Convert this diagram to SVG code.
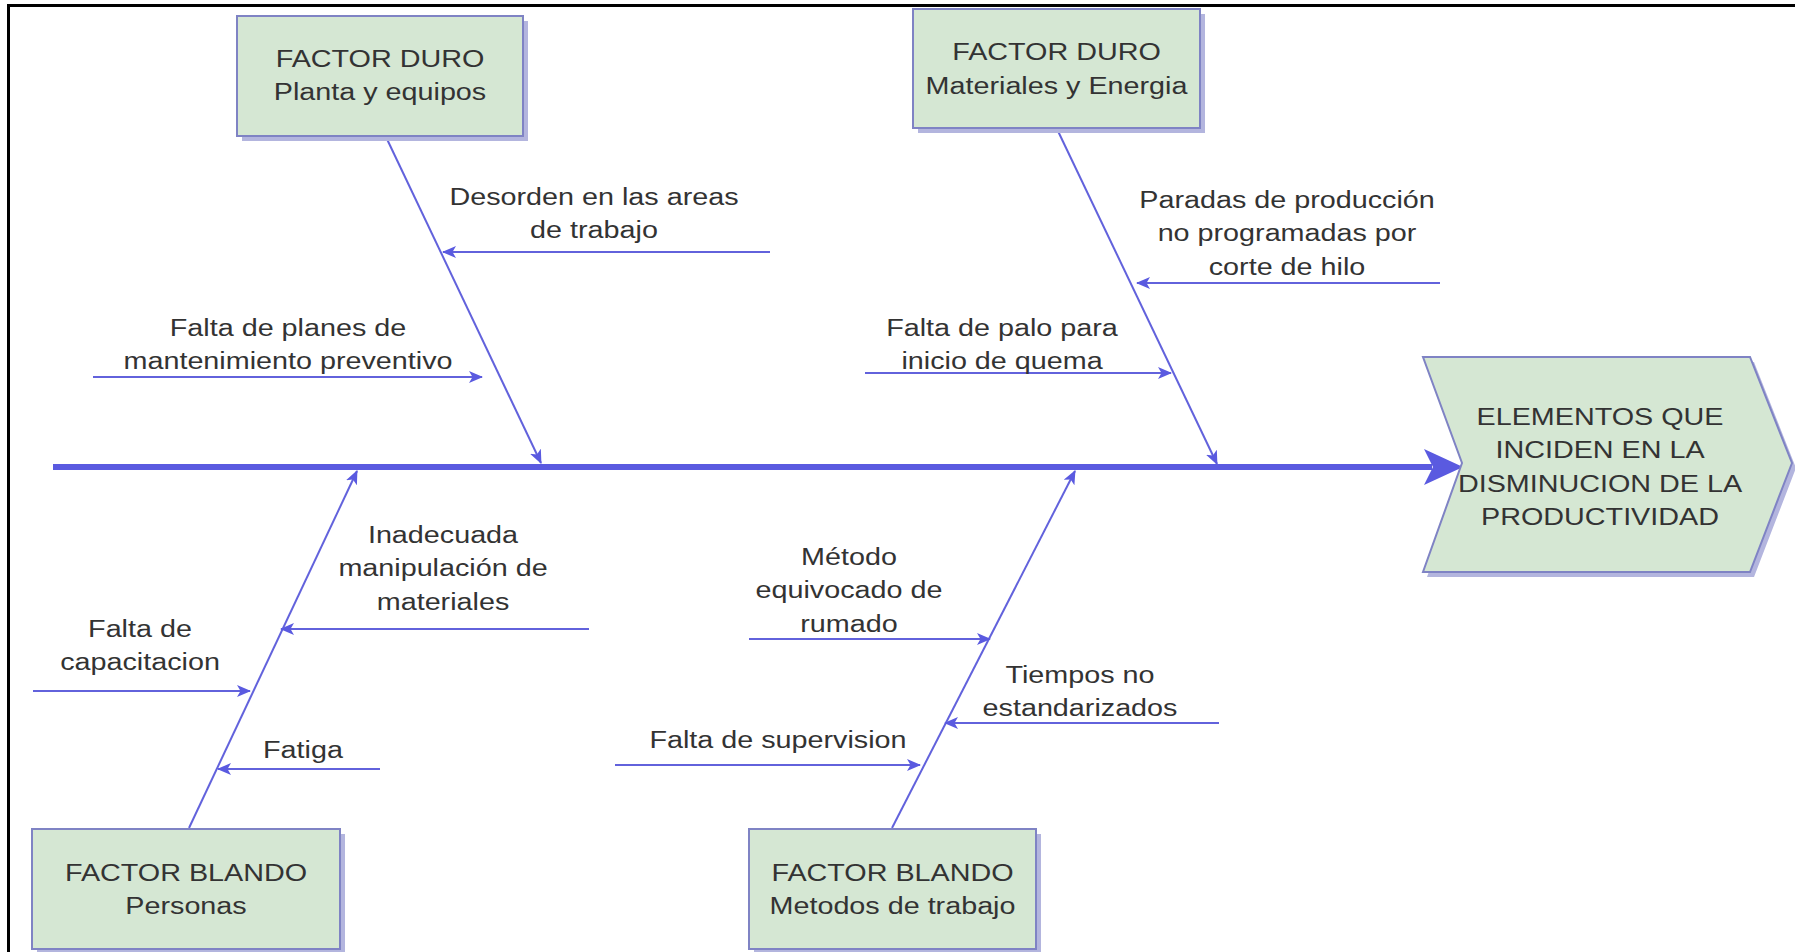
<svg xmlns="http://www.w3.org/2000/svg" width="1795" height="952" viewBox="0 0 1795 952">
<style>
.box{fill:#d5e7d3;stroke:#7f83c4;stroke-width:2}
.shadow{fill:#b3b5de}
.t{font-family:"Liberation Sans",Arial,sans-serif;font-size:23px;fill:#333;text-anchor:middle}
.ln{stroke:#6262dc;stroke-width:2;fill:none}
.frame{stroke:#000;stroke-width:3}
</style>
<defs>
<marker id="ah" viewBox="0 0 14 12" refX="13" refY="6" markerWidth="14" markerHeight="12" markerUnits="userSpaceOnUse" orient="auto">
<path d="M0,0 L14,6 L0,12 L3.5,6 Z" fill="#5a5ae0"/>
</marker>
</defs>
<rect width="1795" height="952" fill="#fff"/>
<line class="frame" x1="7" y1="5.5" x2="1795" y2="5.5"/>
<line class="frame" x1="8.5" y1="4" x2="8.5" y2="952"/>

<g id="connectors">
<line x1="53" y1="467" x2="1432" y2="467" stroke="#5a5ae0" stroke-width="6"/>
<path d="M1463,467 L1424,449 L1433,467 L1424,485 Z" fill="#5a5ae0"/>
<line class="ln" x1="386" y1="137" x2="541" y2="463" marker-end="url(#ah)"/>
<line class="ln" x1="1057" y1="129" x2="1217" y2="464" marker-end="url(#ah)"/>
<line class="ln" x1="189" y1="828" x2="357" y2="471" marker-end="url(#ah)"/>
<line class="ln" x1="892" y1="828" x2="1075" y2="471" marker-end="url(#ah)"/>
<line class="ln" x1="770" y1="252" x2="443" y2="252" marker-end="url(#ah)"/>
<line class="ln" x1="93" y1="377" x2="482" y2="377" marker-end="url(#ah)"/>
<line class="ln" x1="1440" y1="283" x2="1137" y2="283" marker-end="url(#ah)"/>
<line class="ln" x1="865" y1="373" x2="1171" y2="373" marker-end="url(#ah)"/>
<line class="ln" x1="589" y1="629" x2="281" y2="629" marker-end="url(#ah)"/>
<line class="ln" x1="33" y1="691" x2="250" y2="691" marker-end="url(#ah)"/>
<line class="ln" x1="380" y1="769" x2="218" y2="769" marker-end="url(#ah)"/>
<line class="ln" x1="749" y1="639" x2="990" y2="639" marker-end="url(#ah)"/>
<line class="ln" x1="1219" y1="723" x2="945" y2="723" marker-end="url(#ah)"/>
<line class="ln" x1="615" y1="765" x2="920" y2="765" marker-end="url(#ah)"/>
</g>

<g id="box-planta">
<rect class="shadow" x="242" y="21" width="286" height="120"/>
<rect class="box" x="237" y="16" width="286" height="120"/>
<text class="t" transform="translate(380 0) scale(1.25 1)"><tspan x="0" y="67">FACTOR DURO</tspan><tspan x="0" y="100.5">Planta y equipos</tspan></text>
</g>

<g id="box-materiales">
<rect class="shadow" x="918" y="14" width="287" height="119"/>
<rect class="box" x="913" y="9" width="287" height="119"/>
<text class="t" transform="translate(1056.5 0) scale(1.25 1)"><tspan x="0" y="60.5">FACTOR DURO</tspan><tspan x="0" y="94">Materiales y Energia</tspan></text>
</g>

<g id="box-personas">
<rect class="shadow" x="37" y="834" width="308" height="120"/>
<rect class="box" x="32" y="829" width="308" height="120"/>
<text class="t" transform="translate(186 0) scale(1.25 1)"><tspan x="0" y="881">FACTOR BLANDO</tspan><tspan x="0" y="914.5">Personas</tspan></text>
</g>

<g id="box-metodos">
<rect class="shadow" x="754" y="834" width="287" height="120"/>
<rect class="box" x="749" y="829" width="287" height="120"/>
<text class="t" transform="translate(892.5 0) scale(1.25 1)"><tspan x="0" y="881">FACTOR BLANDO</tspan><tspan x="0" y="914.5">Metodos de trabajo</tspan></text>
</g>

<g id="head">
<polygon class="shadow" points="1427,362 1754,362 1796,468 1754,577 1427,577 1466,468"/>
<polygon class="box" points="1423,357 1750,357 1792,463 1750,572 1423,572 1462,463"/>
<text class="t" transform="translate(1600 0) scale(1.25 1)"><tspan x="0" y="425">ELEMENTOS QUE</tspan><tspan x="0" y="458.5">INCIDEN EN LA</tspan><tspan x="0" y="492">DISMINUCION DE LA</tspan><tspan x="0" y="525.5">PRODUCTIVIDAD</tspan></text>
</g>

<g id="cause-desorden">
<text class="t" transform="translate(594 0) scale(1.25 1)"><tspan x="0" y="205">Desorden en las areas</tspan><tspan x="0" y="238.5">de trabajo</tspan></text>
</g>
<g id="cause-planes">
<text class="t" transform="translate(288 0) scale(1.25 1)"><tspan x="0" y="336">Falta de planes de</tspan><tspan x="0" y="369.5">mantenimiento preventivo</tspan></text>
</g>
<g id="cause-paradas">
<text class="t" transform="translate(1287 0) scale(1.25 1)"><tspan x="0" y="208">Paradas de producción</tspan><tspan x="0" y="241.5">no programadas por</tspan><tspan x="0" y="275">corte de hilo</tspan></text>
</g>
<g id="cause-palo">
<text class="t" transform="translate(1002 0) scale(1.25 1)"><tspan x="0" y="336">Falta de palo para</tspan><tspan x="0" y="369.5">inicio de quema</tspan></text>
</g>
<g id="cause-inadecuada">
<text class="t" transform="translate(443 0) scale(1.25 1)"><tspan x="0" y="543">Inadecuada</tspan><tspan x="0" y="576.5">manipulación de</tspan><tspan x="0" y="610">materiales</tspan></text>
</g>
<g id="cause-capacitacion">
<text class="t" transform="translate(140 0) scale(1.25 1)"><tspan x="0" y="637">Falta de</tspan><tspan x="0" y="670.5">capacitacion</tspan></text>
</g>
<g id="cause-fatiga">
<text class="t" transform="translate(303 0) scale(1.25 1)"><tspan x="0" y="758">Fatiga</tspan></text>
</g>
<g id="cause-metodo">
<text class="t" transform="translate(849 0) scale(1.25 1)"><tspan x="0" y="565">Método</tspan><tspan x="0" y="598.5">equivocado de</tspan><tspan x="0" y="632">rumado</tspan></text>
</g>
<g id="cause-tiempos">
<text class="t" transform="translate(1080 0) scale(1.25 1)"><tspan x="0" y="683">Tiempos no</tspan><tspan x="0" y="716.5">estandarizados</tspan></text>
</g>
<g id="cause-supervision">
<text class="t" transform="translate(778 0) scale(1.25 1)"><tspan x="0" y="748">Falta de supervision</tspan></text>
</g>
</svg>
